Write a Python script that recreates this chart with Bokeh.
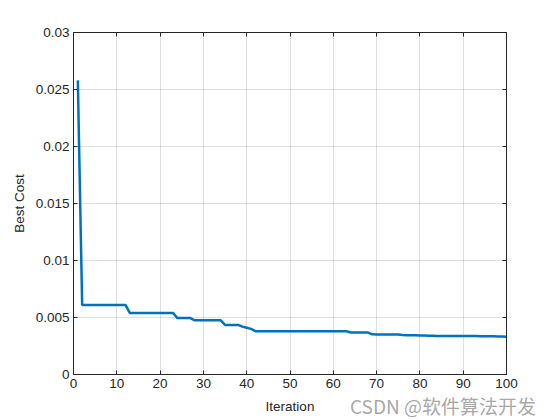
from bokeh.plotting import figure
from bokeh.models import LinearAxis, FixedTicker, Range1d, ColumnDataSource, Div
from bokeh.layouts import column
from bokeh.embed import file_html
from bokeh.resources import INLINE

iterations = list(range(1, 101))
best_cost = [
    0.0258, 0.0061, 0.0061, 0.0061, 0.0061, 0.0061, 0.0061, 0.0061, 0.0061, 0.0061,
    0.0061, 0.0061, 0.0054, 0.0054, 0.0054, 0.0054, 0.0054, 0.0054, 0.0054, 0.0054,
    0.0054, 0.0054, 0.0054, 0.00495, 0.00495, 0.00495, 0.00495, 0.00475, 0.00475, 0.00475,
    0.00475, 0.00475, 0.00475, 0.00475, 0.00435, 0.00435, 0.00435, 0.00435, 0.0042, 0.0041,
    0.0040, 0.0038, 0.0038, 0.0038, 0.0038, 0.0038, 0.0038, 0.0038, 0.0038, 0.0038,
    0.0038, 0.0038, 0.0038, 0.0038, 0.0038, 0.0038, 0.0038, 0.0038, 0.0038, 0.0038,
    0.0038, 0.0038, 0.0038, 0.00368, 0.00368, 0.00368, 0.00368, 0.00368, 0.00352, 0.00350,
    0.00350, 0.00350, 0.00350, 0.00350, 0.00350, 0.00346, 0.00345, 0.00345, 0.00344, 0.00343,
    0.00342, 0.00340, 0.00339, 0.00338, 0.00338, 0.00338, 0.00338, 0.00338, 0.00338, 0.00338,
    0.00338, 0.00337, 0.00337, 0.00336, 0.00336, 0.00335, 0.00335, 0.00334, 0.00333, 0.00332,
]

x_tick_values = [0, 10, 20, 30, 40, 50, 60, 70, 80, 90, 100]
x_tick_labels = ["0", "10", "20", "30", "40", "50", "60", "70", "80", "90", "100"]
y_tick_values = [0, 0.005, 0.01, 0.015, 0.02, 0.025, 0.03]
y_tick_labels = ["0", "0.005", "0.01", "0.015", "0.02", "0.025", "0.03"]
x_label = "Iteration"
y_label = "Best Cost"
watermark = "CSDN @软件算法开发"

FONT = "Liberation Sans"
DARK = "#262626"

p = figure(width=560, height=420, output_backend="svg", toolbar_location=None,
           x_range=Range1d(0, 100), y_range=Range1d(0, 0.03),
           min_border_left=73, min_border_right=54, min_border_top=32, min_border_bottom=46)
p.background_fill_color = "white"
p.border_fill_color = "white"
p.outline_line_color = DARK
p.outline_line_width = 1

src = ColumnDataSource(dict(x=iterations, y=best_cost))
p.line("x", "y", source=src, line_color="#0072BD", line_width=2.5)

for ax in (p.xaxis[0], p.yaxis[0]):
    ax.axis_line_color = DARK
    ax.major_tick_line_color = DARK
    ax.major_tick_in = 4
    ax.major_tick_out = 0
    ax.minor_tick_line_color = None
    ax.major_label_text_font = FONT
    ax.major_label_text_font_size = "13.5px"
    ax.major_label_text_color = DARK
    ax.major_label_standoff = 4
    ax.axis_label_text_font = FONT
    ax.axis_label_text_font_size = "13.5px"
    ax.axis_label_text_font_style = "normal"
    ax.axis_label_text_color = DARK

p.xaxis[0].ticker = FixedTicker(ticks=x_tick_values)
p.xaxis[0].major_label_overrides = dict(zip(x_tick_values, x_tick_labels))
p.xaxis[0].axis_label = x_label
p.xaxis[0].axis_label_standoff = 8
p.yaxis[0].ticker = FixedTicker(ticks=y_tick_values)
p.yaxis[0].major_label_overrides = dict(zip(y_tick_values, y_tick_labels))
p.yaxis[0].axis_label = y_label
p.yaxis[0].axis_label_standoff = 6

for loc, ticks in (("above", x_tick_values), ("right", y_tick_values)):
    a = LinearAxis(ticker=FixedTicker(ticks=ticks),
                   major_label_overrides={t: "" for t in ticks},
                   major_label_standoff=0, major_tick_in=4, major_tick_out=0,
                   minor_tick_line_color=None, axis_line_color=DARK,
                   major_tick_line_color=DARK)
    p.add_layout(a, loc)

p.xgrid.ticker = FixedTicker(ticks=x_tick_values)
p.ygrid.ticker = FixedTicker(ticks=y_tick_values)
p.xgrid.grid_line_color = DARK
p.xgrid.grid_line_alpha = 0.15
p.ygrid.grid_line_color = DARK
p.ygrid.grid_line_alpha = 0.15

mark = Div(text=watermark, width=200, height=24, margin=(-26, 0, 0, 350),
           styles={"position": "relative", "z-index": "10", "color": "#9a9a9a",
                   "font-size": "19px", "font-family": "Noto Sans CJK SC",
                   "opacity": "0.85", "white-space": "nowrap", "line-height": "24px"})

layout = column(p, mark, spacing=0)

open("out.html", "w").write(file_html(layout, INLINE))
